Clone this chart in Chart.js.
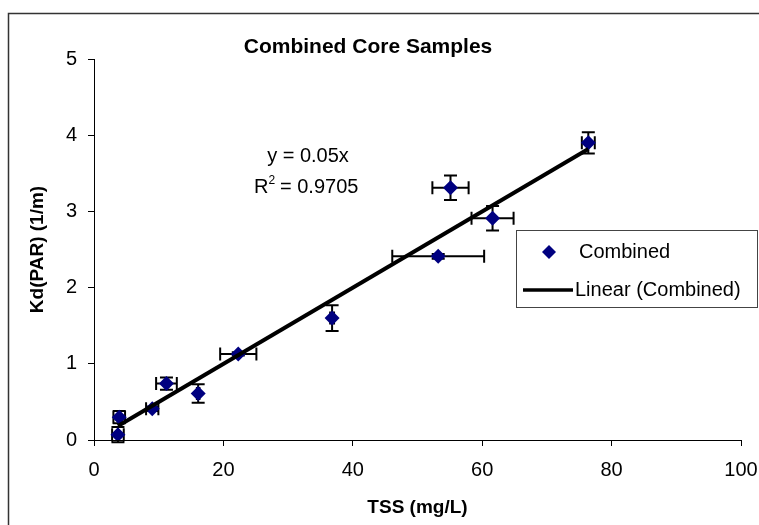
<!DOCTYPE html>
<html>
<head>
<meta charset="utf-8">
<script src="https://cdn.jsdelivr.net/npm/chart.js@4.4.1/dist/chart.umd.min.js"></script>
<style>
  body { margin: 0; background: #fff; }
  #wrap { width: 759px; height: 525px; position: relative; }
</style>
</head>
<body>
<div id="wrap"><canvas id="coreChart"></canvas></div>
<script>
// TSS (mg/L) vs Kd(PAR) (1/m), combined core samples
var tss    = [3.7, 3.9, 9.0, 11.2, 16.1, 22.3, 36.8, 53.2, 55.1, 61.6, 76.4];
var kd     = [0.07, 0.30, 0.41, 0.74, 0.61, 1.13, 1.60, 2.41, 3.31, 2.91, 3.90];
var tssErr = [0.9, 0.9, 0.95, 1.6, 0.2, 2.8, 0.3, 7.1, 2.8, 3.25, 1.0];
var kdErr  = [0.10, 0.08, 0.03, 0.08, 0.12, 0.02, 0.17, 0.03, 0.16, 0.16, 0.14];

// linear trendline y = 0.05x, from min to max TSS
var trendX = [3.7, 76.4];
var trendY = [0.185, 3.82];

var xTicks = [0, 20, 40, 60, 80, 100];
var yTicks = [0, 1, 2, 3, 4, 5];

var FONT = '"Liberation Sans", Arial, sans-serif';

function pts(xs, ys) {
  var out = [];
  for (var i = 0; i < xs.length; i++) out.push({x: xs[i], y: ys[i]});
  return out;
}

var errorBars = {
  id: 'errorBars',
  beforeDatasetsDraw: function(chart) {
    var ctx = chart.ctx, sx = chart.scales.x, sy = chart.scales.y;
    var cap = 6.5;
    ctx.save();
    ctx.strokeStyle = '#000';
    ctx.lineWidth = 2;
    for (var i = 0; i < tss.length; i++) {
      var px = sx.getPixelForValue(tss[i]), py = sy.getPixelForValue(kd[i]);
      var x0 = sx.getPixelForValue(tss[i] - tssErr[i]), x1 = sx.getPixelForValue(tss[i] + tssErr[i]);
      var y0 = sy.getPixelForValue(kd[i] - kdErr[i]), y1 = sy.getPixelForValue(kd[i] + kdErr[i]);
      ctx.beginPath();
      ctx.moveTo(x0, py); ctx.lineTo(x1, py);
      ctx.moveTo(x0, py - cap); ctx.lineTo(x0, py + cap);
      ctx.moveTo(x1, py - cap); ctx.lineTo(x1, py + cap);
      ctx.moveTo(px, y0); ctx.lineTo(px, y1);
      ctx.moveTo(px - cap, y0); ctx.lineTo(px + cap, y0);
      ctx.moveTo(px - cap, y1); ctx.lineTo(px + cap, y1);
      ctx.stroke();
    }
    ctx.restore();
  }
};

var decorations = {
  id: 'decorations',
  afterDraw: function(chart) {
    var ctx = chart.ctx, a = chart.chartArea;
    ctx.save();
    // outer chart border
    ctx.strokeStyle = '#333';
    ctx.lineWidth = 1.5;
    ctx.strokeRect(8.5, 13.5, 800, 600);

    ctx.fillStyle = '#000';
    ctx.textAlign = 'center';
    ctx.textBaseline = 'middle';
    ctx.font = 'bold 21px ' + FONT;
    ctx.fillText('Combined Core Samples', 368, 47);

    ctx.font = 'bold 19px ' + FONT;
    ctx.fillText('TSS (mg/L)', (a.left + a.right) / 2, 508);
    ctx.save();
    ctx.translate(38, (a.top + a.bottom) / 2);
    ctx.rotate(-Math.PI / 2);
    ctx.fillText('Kd(PAR) (1/m)', 0, 0);
    ctx.restore();

    // trendline equation
    ctx.font = '20px ' + FONT;
    ctx.fillText('y = 0.05x', 308, 156);
    ctx.textAlign = 'left';
    ctx.fillText('R', 254, 187);
    var rw = ctx.measureText('R').width;
    ctx.font = '12px ' + FONT;
    ctx.fillText('2', 254 + rw, 181);
    ctx.font = '20px ' + FONT;
    ctx.fillText(' = 0.9705', 254 + rw + 6, 187);

    // legend
    ctx.strokeStyle = '#444';
    ctx.lineWidth = 1;
    ctx.fillStyle = '#fff';
    ctx.fillRect(516.5, 230.5, 241, 77);
    ctx.strokeRect(516.5, 230.5, 241, 77);
    ctx.fillStyle = '#000080';
    ctx.beginPath();
    ctx.moveTo(549, 245); ctx.lineTo(556, 252); ctx.lineTo(549, 259); ctx.lineTo(542, 252);
    ctx.closePath();
    ctx.fill();
    ctx.strokeStyle = '#000';
    ctx.lineWidth = 3.5;
    ctx.beginPath();
    ctx.moveTo(523, 290); ctx.lineTo(573, 290);
    ctx.stroke();
    ctx.fillStyle = '#000';
    ctx.font = '20px ' + FONT;
    ctx.textAlign = 'left';
    ctx.fillText('Combined', 579, 252);
    ctx.fillText('Linear (Combined)', 575, 290);
    ctx.restore();
  }
};

new Chart(document.getElementById('coreChart').getContext('2d'), {
  type: 'scatter',
  data: {
    datasets: [{
      label: 'Linear (Combined)',
      data: pts(trendX, trendY),
      showLine: true,
      borderColor: '#000',
      borderWidth: 4,
      pointRadius: 0,
      order: 0
    }, {
      label: 'Combined',
      data: pts(tss, kd),
      pointStyle: 'rectRot',
      pointRadius: 7.5,
      backgroundColor: '#000080',
      borderColor: '#000080',
      borderWidth: 0,
      order: 1
    }]
  },
  options: {
    responsive: true,
    maintainAspectRatio: false,
    animation: false,
    layout: { padding: { top: 59, right: 18, left: 0, bottom: 0 } },
    plugins: { legend: { display: false }, tooltip: { enabled: false } },
    scales: {
      x: {
        type: 'linear', min: 0, max: 100,
        afterFit: function(s) { s.height = 85; s.paddingLeft = 0; s.paddingRight = 0; },
        afterBuildTicks: function(s) { s.ticks = xTicks.map(function(v) { return {value: v}; }); },
        border: { color: '#000', width: 1 },
        grid: { drawOnChartArea: false, color: '#000', tickLength: 6 },
        ticks: { color: '#000', padding: 12, font: { family: FONT, size: 20 } }
      },
      y: {
        type: 'linear', min: 0, max: 5,
        afterFit: function(s) { s.width = 94; s.paddingTop = 0; s.paddingBottom = 0; },
        afterBuildTicks: function(s) { s.ticks = yTicks.map(function(v) { return {value: v}; }); },
        border: { color: '#000', width: 1 },
        grid: { drawOnChartArea: false, color: '#000', tickLength: 6 },
        ticks: { color: '#000', padding: 11, font: { family: FONT, size: 20 } }
      }
    }
  },
  plugins: [errorBars, decorations]
});
</script>
</body>
</html>
